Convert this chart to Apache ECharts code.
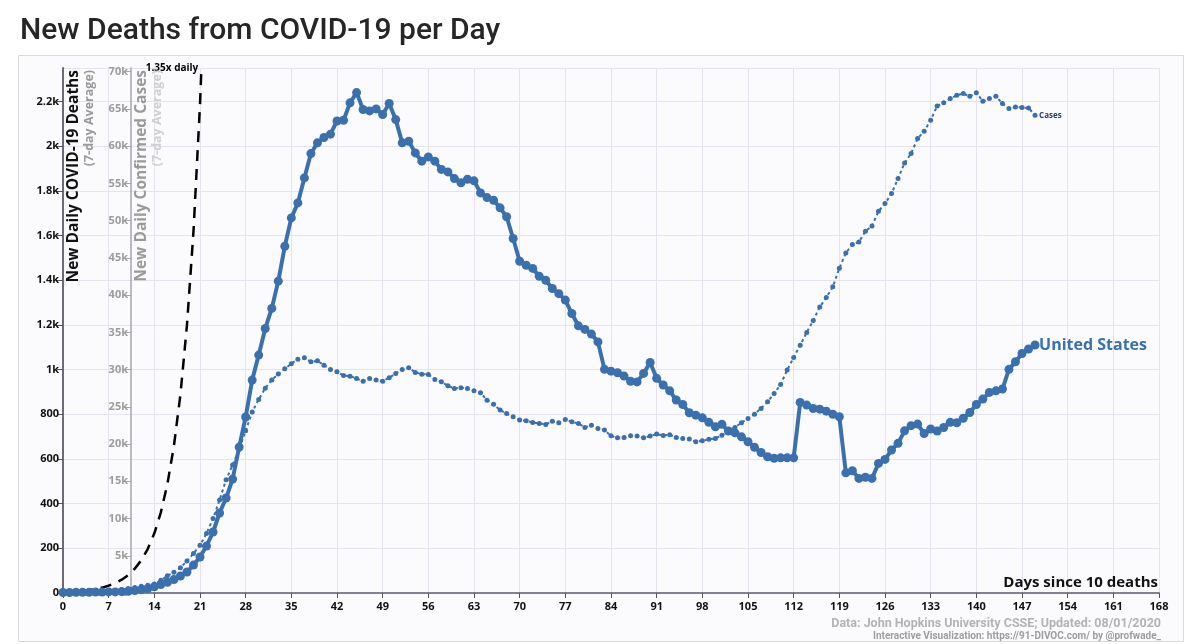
<!DOCTYPE html>
<html><head><meta charset="utf-8">
<script src="https://cdn.jsdelivr.net/npm/echarts@6/dist/echarts.min.js"></script>
<style>html,body{margin:0;padding:0;background:#fff}#c{width:1200px;height:644px}</style>
</head><body><div id="c"></div>
<script>
// New daily deaths (7-day avg), days 0..149 since 10 deaths
const deaths = [
  2, 2, 3, 3, 3, 4, 4, 5, 5, 6,
  8, 11, 15, 20, 28, 38, 48, 60, 76, 94,
  125, 161, 210, 273, 358, 425, 510, 653, 788, 953,
  1065, 1184, 1274, 1396, 1552, 1679, 1746, 1858, 1967, 2015,
  2039, 2054, 2113, 2116, 2194, 2240, 2164, 2158, 2167, 2142,
  2191, 2119, 2015, 2022, 1970, 1933, 1952, 1933, 1896, 1885,
  1855, 1836, 1852, 1845, 1791, 1770, 1758, 1724, 1684, 1587,
  1485, 1467, 1453, 1418, 1400, 1363, 1340, 1311, 1251, 1196,
  1180, 1159, 1124, 1001, 993, 986, 971, 948, 945, 983,
  1032, 961, 931, 905, 864, 844, 807, 796, 784, 764,
  744, 755, 725, 717, 699, 677, 652, 629, 610, 603,
  605, 605, 605, 853, 841, 826, 823, 814, 800, 789,
  538, 547, 513, 518, 513, 580, 598, 640, 670, 726,
  749, 756, 714, 734, 725, 741, 764, 762, 782, 808,
  844, 868, 898, 905, 913, 1001, 1035, 1072, 1092, 1110
];
// New daily confirmed cases (7-day avg), days 0..149
const cases = [
  30, 40, 55, 75, 100, 140, 190, 260, 350, 470,
  600, 750, 900, 1050, 1200, 1700, 2300, 2800, 3400, 4300,
  5300, 6400, 8000, 10000, 12500, 15200, 17200, 19300, 21800, 24300,
  26000, 27500, 28600, 29400, 30100, 30800, 31400, 31580, 31040, 31180,
  30600, 30020, 29700, 29210, 29120, 28810, 28450, 28810, 28590, 28450,
  28900, 29480, 30020, 30240, 29620, 29390, 29350, 28680, 28360, 27820,
  27470, 27550, 27470, 27150, 26880, 25900, 25360, 24560, 24110, 23660,
  23220, 23120, 22910, 22770, 22640, 23080, 22850, 23310, 22990, 22770,
  22240, 22540, 22100, 21880, 21110, 20840, 20890, 21110, 21070, 20840,
  21070, 21340, 21160, 21250, 20890, 20760, 20670, 20310, 20440, 20630,
  20760, 21200, 21780, 22240, 22860, 23440, 24020, 24790, 25670, 26800,
  28010, 29930, 31630, 33280, 34990, 36600, 38400, 39680, 41110, 43600,
  45670, 46790, 47140, 48580, 49290, 51260, 52290, 53640, 55650, 57750,
  59010, 61020, 62000, 63480, 65400, 65850, 66390, 66830, 67060, 66700,
  67190, 66030, 66390, 66700, 65720, 65050, 65270, 65180, 65130, 64150
];
// 1.35x daily reference line
const growthDays = [0,1,2,3,4,5,6,7,8,9,10,11,12,13,14,15,16,17,18,19,20,21,22];
const growthValues = [4, 5.4, 7.3, 9.8, 13.3, 17.9, 24.2, 32.7, 44.1, 59.6, 80.4, 108.6, 146.6, 197.9, 267, 361, 487, 658, 888, 1199, 1618, 2185, 2950];

const titleText = 'New Deaths from COVID-19 per Day';
const xName = 'Days since 10 deaths';
const deathsAxisTitle = 'New Daily COVID-19 Deaths';
const casesAxisTitle = 'New Daily Confirmed Cases';
const avgText = '(7-day Average)';
const growthLabel = '1.35x daily';
const seriesLabel = 'United States';
const casesLabel = 'Cases';
const credit1 = 'Data: John Hopkins University CSSE; Updated: 08/01/2020';
const credit2 = 'Interactive Visualization: https://91-DIVOC.com/ by @profwade_';

const DMAX = 2350, CMAX = 70500;
const BLUE = '#3a70ae';
const FONT = '"Open Sans", sans-serif';
const kfmt = v => v >= 1000 ? (Math.round(v / 100) / 10) + 'k' : String(v);

const chart = echarts.init(document.getElementById('c'), null, {renderer: 'canvas'});
const option = {
  backgroundColor: '#ffffff',
  animation: false,
  title: {
    text: titleText, left: 15, top: 11,
    textStyle: {fontFamily: 'Roboto', fontSize: 30, fontWeight: 500, color: '#262626'}
  },
  grid: {left: 63, right: 41, top: 68, bottom: 51},
  xAxis: {
    type: 'value', min: 0, max: 168, interval: 7,
    axisLine: {lineStyle: {color: '#867f90', width: 2}},
    axisTick: {show: true, length: 5, lineStyle: {color: '#555', width: 1}},
    axisLabel: {color: '#111', fontWeight: 'bold', fontSize: 11, fontFamily: FONT, margin: 8},
    splitLine: {show: true, lineStyle: {color: '#e6e2ee', width: 1}}
  },
  yAxis: [
    {
      type: 'value', min: 0, max: DMAX, interval: 200, position: 'left',
      axisLine: {show: true, lineStyle: {color: '#6e6976', width: 2}},
      axisTick: {show: true, length: 6, lineStyle: {color: '#555', width: 1}},
      axisLabel: {color: '#111', fontWeight: 'bold', fontSize: 11, fontFamily: FONT, margin: 4,
                  showMaxLabel: false, formatter: kfmt},
      splitLine: {show: true, lineStyle: {color: '#e6e2ee', width: 1}}
    },
    {
      type: 'value', min: 0, max: CMAX, interval: 5000, position: 'left', offset: -68,
      axisLine: {show: true, lineStyle: {color: '#a8a4ad', width: 1.5}},
      axisTick: {show: true, length: 7, lineStyle: {color: '#a8a4ad', width: 1}},
      axisLabel: {color: '#9c9c9c', fontWeight: 'bold', fontSize: 11, fontFamily: FONT, margin: 3,
                  showMaxLabel: false, formatter: kfmt},
      splitLine: {show: false}
    }
  ],
  series: [
    {
      type: 'line', name: 'growth', yAxisIndex: 0,
      data: growthDays.map((d, i) => [d, growthValues[i]]),
      symbol: 'none', clip: true, z: 3,
      lineStyle: {color: '#000', width: 2.5, type: [11, 8]}
    },
    {
      type: 'line', name: 'Cases', yAxisIndex: 1,
      data: cases.map((v, i) => [i, v]),
      symbol: 'circle', symbolSize: 5, showSymbol: true, z: 4,
      itemStyle: {color: BLUE}, lineStyle: {color: BLUE, width: 2, type: [3, 3]},
      endLabel: {show: true, formatter: casesLabel, color: '#24436b', fontSize: 8,
                 fontWeight: 'bold', fontFamily: FONT, distance: 4}
    },
    {
      type: 'line', name: 'United States', yAxisIndex: 0,
      data: deaths.map((v, i) => [i, v]),
      symbol: 'circle', symbolSize: 9, showSymbol: true, z: 5,
      itemStyle: {color: BLUE}, lineStyle: {color: BLUE, width: 4},
      endLabel: {show: true, formatter: seriesLabel, color: BLUE, fontSize: 16,
                 fontWeight: 'bold', fontFamily: FONT, distance: 4}
    }
  ]
};
chart.setOption(option);

const pTop = chart.convertToPixel({xAxisIndex: 0, yAxisIndex: 0}, [21.2, DMAX]);
const pEnd = chart.convertToPixel({xAxisIndex: 0, yAxisIndex: 0}, [168, 0]);
const pOrig = chart.convertToPixel({xAxisIndex: 0, yAxisIndex: 0}, [0, DMAX]);
const casesAxisX = pOrig[0] + 68;

chart.setOption({
  graphic: [
    {type: 'rect', z: -10, silent: true,
     shape: {x: 18.5, y: 55.5, width: 1165, height: 586},
     style: {fill: '#fbfbfd', stroke: '#d9d9d9', lineWidth: 1}},
    {type: 'text', z: 10, x: pTop[0] - 3, y: pTop[1],
     style: {text: growthLabel, fill: '#000', font: 'bold 10px ' + FONT, align: 'right', verticalAlign: 'middle'}},
    {type: 'text', z: 10, x: pOrig[0] + 11, y: pOrig[1] + 2, rotation: Math.PI / 2,
     style: {text: deathsAxisTitle, fill: '#111', font: 'bold 15.5px ' + FONT, align: 'right', verticalAlign: 'middle'}},
    {type: 'text', z: 10, x: pOrig[0] + 26, y: pOrig[1] + 2, rotation: Math.PI / 2,
     style: {text: avgText, fill: '#9a9a9a', font: 'bold 12.5px ' + FONT, align: 'right', verticalAlign: 'middle'}},
    {type: 'text', z: 10, x: casesAxisX + 11, y: pOrig[1] + 2, rotation: Math.PI / 2,
     style: {text: casesAxisTitle, fill: '#9a9a9a', font: 'bold 15.5px ' + FONT, align: 'right', verticalAlign: 'middle'}},
    {type: 'text', z: 10, x: casesAxisX + 26, y: pOrig[1] + 2, rotation: Math.PI / 2,
     style: {text: avgText, fill: '#cfcfcf', font: 'bold 12.5px ' + FONT, align: 'right', verticalAlign: 'middle'}},
    {type: 'text', z: 10, x: pEnd[0] - 1, y: pEnd[1] - 10,
     style: {text: xName, fill: '#111', font: 'bold 15px ' + FONT, align: 'right', verticalAlign: 'middle'}},
    {type: 'text', z: 10, x: pEnd[0] + 2, y: pEnd[1] + 31,
     style: {text: credit1, fill: '#b3b3b3', font: 'bold 12.5px Roboto', align: 'right', verticalAlign: 'middle'}},
    {type: 'text', z: 10, x: pEnd[0] + 2, y: pEnd[1] + 43,
     style: {text: credit2, fill: '#9d9d9d', font: 'bold 10px Roboto', align: 'right', verticalAlign: 'middle'}}
  ]
});
</script>
</body></html>
